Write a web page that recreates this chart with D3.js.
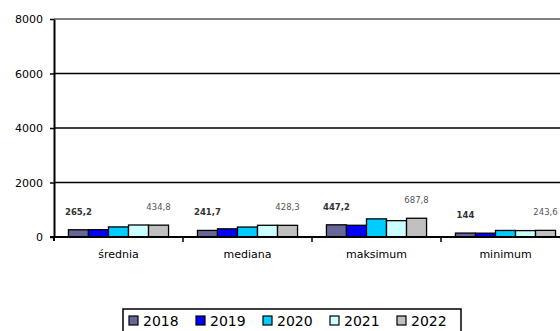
<!DOCTYPE html>
<html><head><meta charset="utf-8">
<script src="https://cdn.jsdelivr.net/npm/d3@7"></script>
<style>body{margin:0;background:#fff}svg{display:block}text{font-family:"DejaVu Sans",sans-serif}</style>
</head><body>
<script>
const categories = ["średnia", "mediana", "maksimum", "minimum"];
const years = ["2018", "2019", "2020", "2021", "2022"];
const v2018 = [265.2, 241.7, 447.2, 144];
const v2019 = [270, 300, 430, 140];
const v2020 = [370, 365, 665, 240];
const v2021 = [440, 430, 600, 235];
const v2022 = [434.8, 428.3, 687.8, 243.6];
const yTicks = [0, 2000, 4000, 6000, 8000];
const colors = ["#666699", "#0000FF", "#00CCFF", "#CCFFFF", "#C0C0C0"];
const series = [v2018, v2019, v2020, v2021, v2022];

const W = 560, H = 331;
const svg = d3.select("body").append("svg").attr("width", W).attr("height", H);

const x0 = d3.scaleBand().domain(categories).range([54, 570]);
const bw = x0.bandwidth();
const x1 = d3.scaleBand().domain(years).range([bw * 0.112, bw * 0.888]);
const y = d3.scaleLinear().domain([0, 8000]).range([237, 19]);

// gridlines
svg.append("g").selectAll("line").data(yTicks.filter(t => t > 0)).join("line")
  .attr("x1", 54).attr("x2", W).attr("y1", d => y(d)).attr("y2", d => y(d))
  .attr("stroke", d => d === 8000 ? "#808080" : "#000").attr("stroke-width", d => d === 8000 ? 2 : 1.5);

// bars
const g = svg.append("g");
years.forEach((yr, si) => {
  g.selectAll(null).data(series[si]).join("rect")
    .attr("x", (d, i) => x0(categories[i]) + x1(yr))
    .attr("width", x1.bandwidth())
    .attr("y", d => y(d))
    .attr("height", d => y(0) - y(d))
    .attr("fill", colors[si]).attr("stroke", "#000").attr("stroke-width", 1.3);
});

// data labels
const fmt = v => String(v).replace(".", ",");
[[0, "bold", "#333"], [4, "normal", "#555"]].forEach(([si, fw, col]) => {
  svg.append("g").selectAll("text").data(series[si]).join("text")
    .attr("x", (d, i) => x0(categories[i]) + x1(years[si]) + x1.bandwidth() / 2)
    .attr("y", d => y(d) - 18)
    .attr("dy", "0.35em")
    .attr("text-anchor", "middle")
    .attr("font-size", 8.5).attr("font-weight", fw).attr("fill", col)
    .text(d => fmt(d));
});

// y axis
const ya = svg.append("g").attr("transform", "translate(54,0)")
  .call(d3.axisLeft(y).tickValues(yTicks).tickSize(4).tickSizeOuter(0).tickPadding(7).tickFormat(d3.format("d")));
ya.select(".domain").attr("stroke", "#000").attr("stroke-width", 2);
ya.selectAll(".tick line").attr("stroke", "#000").attr("stroke-width", 1.5);
ya.selectAll("text").attr("font-size", 11).attr("fill", "#000").attr("font-family", "DejaVu Sans");
ya.append("line").attr("x1", 0).attr("x2", 0).attr("y1", 237).attr("y2", 241).attr("stroke", "#000").attr("stroke-width", 2);

// x axis
const xa = svg.append("g").attr("transform", "translate(0,237)");
xa.append("line").attr("x1", 50).attr("x2", W).attr("y1", 0).attr("y2", 0).attr("stroke", "#000").attr("stroke-width", 2);
xa.selectAll(".bt").data(categories.slice(1)).join("line")
  .attr("x1", d => x0(d)).attr("x2", d => x0(d)).attr("y1", 0).attr("y2", 5)
  .attr("stroke", "#000").attr("stroke-width", 1.5);
xa.selectAll(".cl").data(categories).join("text")
  .attr("x", d => x0(d) + bw / 2).attr("y", 21)
  .attr("text-anchor", "middle").attr("font-size", 11).attr("fill", "#000")
  .text(d => d);

// legend
const lg = svg.append("g");
lg.append("rect").attr("x", 123).attr("y", 309).attr("width", 338).attr("height", 30)
  .attr("fill", "#fff").attr("stroke", "#000").attr("stroke-width", 1.5);
years.forEach((yr, i) => {
  const lx = 129 + i * 67;
  lg.append("rect").attr("x", lx).attr("y", 316).attr("width", 9).attr("height", 9)
    .attr("fill", colors[i]).attr("stroke", "#000").attr("stroke-width", 1.2);
  lg.append("text").attr("x", lx + 14).attr("y", 321).attr("dy", "0.36em")
    .attr("font-size", 14).attr("fill", "#000").text(yr);
});
</script>
</body></html>
